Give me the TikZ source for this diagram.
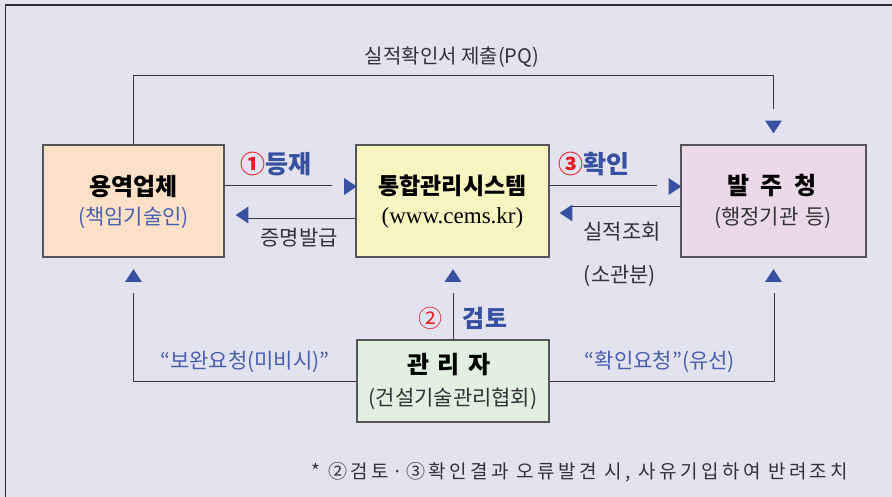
\documentclass[tikz,border=0pt]{standalone}
\usepackage{fontspec}
\setmainfont{Noto Sans CJK KR}
\newfontfamily\latinserif{Liberation Serif}
\definecolor{bgcol}{RGB}{227,227,240}
\definecolor{framecol}{RGB}{45,45,55}
\definecolor{peach}{RGB}{252,225,200}
\definecolor{lyellow}{RGB}{248,246,192}
\definecolor{lpink}{RGB}{235,216,232}
\definecolor{lgreen}{RGB}{226,240,225}
\definecolor{tblue}{RGB}{55,80,160}
\definecolor{sblue}{RGB}{72,95,175}
\definecolor{tred}{RGB}{232,30,40}
\definecolor{tgray}{RGB}{50,50,55}
\definecolor{linecol}{RGB}{55,55,60}
\tikzset{
  box/.style={draw=linecol!85, line width=1.1pt, inner sep=0pt, minimum height=112pt},
  conn/.style={draw=linecol, line width=0.8pt},
  txt/.style={inner sep=0pt, text=tgray},
  tri/.style={fill=tblue}
}
\newcommand\mytri[2]{\fill[tri, shift={(#1)}, rotate=#2] (-6.3,-8.4) -- (6.3,0) -- (-6.3,8.4) -- cycle;}
\begin{document}
\begin{tikzpicture}[x=1pt,y=-1pt]
\useasboundingbox (0,0) rectangle (892,497);
\fill[bgcol] (0,0) rectangle (892,497);
\draw[framecol, line width=1.5pt] (5.5,497) -- (5.5,5) -- (892,5);

% boxes
\node[box, fill=peach, minimum width=181pt] (yong) at (133.5,201) {};
\node[box, fill=lyellow, minimum width=193pt] (tong) at (452.5,201) {};
\node[box, fill=lpink, minimum width=185pt] (bal) at (773.5,201) {};
\node[box, fill=lgreen, minimum width=192pt, minimum height=82pt] (gwan) at (453,381) {};

% box texts
\node[txt, text=black, font=\fontsize{24}{26}\selectfont\bfseries] (yongT) at (133.5,187) {용역업체};
\node[txt, text=sblue, font=\fontsize{21}{24}\selectfont] (yongS) at (133.5,218) {(책임기술인)};
\node[txt, text=black, font=\fontsize{23}{26}\selectfont\bfseries] (tongT) at (452.5,186) {통합관리시스템};
\node[txt, text=black, font=\fontsize{23}{26}\latinserif] (tongS) at (452.5,218) {(www.cems.kr)};
\node[txt, text=black, font=\fontsize{24}{26}\selectfont\bfseries] (balT) at (772,186) {발\hspace{11pt}주\hspace{11pt}청};
\node[txt, font=\fontsize{21}{24}\selectfont] (balS) at (773,218) {(행정기관\hspace{7pt}등)};
\node[txt, text=black, font=\fontsize{24}{26}\selectfont\bfseries] (gwanT) at (449,365) {관\hspace{8pt}리\hspace{8pt}자};
\node[txt, font=\fontsize{21}{24}\selectfont] (gwanS) at (453,399) {(건설기술관리협회)};

% connector end points
\coordinate (pqCorner) at (773.5,75.7);
\coordinate (pqEnd) at (773.5,109);
\coordinate (regEnd) at (331.7,185);
\coordinate (certEnd) at (248,218);
\coordinate (confEnd) at (657,185);
\coordinate (qEnd) at (572,206);
\coordinate (blTop) at (133.5,293);
\coordinate (mTop) at (453,293);
\coordinate (brTop) at (774,293);

% connectors
\draw[conn] (yong.north) |- (pqCorner) -- (pqEnd);
\draw[conn] (regEnd -| yong.east) -- (regEnd);
\draw[conn] (certEnd -| tong.west) -- (certEnd);
\draw[conn] (confEnd -| tong.east) -- (confEnd);
\draw[conn] (qEnd -| bal.west) -- (qEnd);
\draw[conn] (gwan.west) -| (blTop);
\draw[conn] (gwan.north) -- (mTop);
\draw[conn] (gwan.east) -| (brTop);

% arrow heads
\mytri{773.5,127}{-90}
\mytri{350.5,186.5}{0}
\mytri{242,215}{180}
\mytri{675,186.5}{0}
\mytri{566,213}{180}
\mytri{133.5,275.5}{90}
\mytri{453,275.5}{90}
\mytri{773.5,275.5}{90}

% labels
\node[txt, font=\fontsize{20}{22}\selectfont] (pqL) at (452,57) {실적확인서 제출(PQ)};
\node[txt, font=\fontsize{25}{28}\selectfont\bfseries] (regL) at (276,164) {\textcolor{tred}{①}\textcolor{tblue}{등재}};
\node[txt, font=\fontsize{25}{28}\selectfont\bfseries] (confL) at (594,164) {\textcolor{tred}{③}\textcolor{tblue}{확인}};
\node[txt, font=\fontsize{21}{24}\selectfont] (certL) at (299,238) {증명발급};
\node[txt, font=\fontsize{21}{24}\selectfont] (qL) at (622,232) {실적조회};
\node[txt, font=\fontsize{21}{24}\selectfont] (qL2) at (620,276) {(소관분)};
\node[txt, text=tred, font=\fontsize{24}{26}\selectfont] (revN) at (430,318) {②};
\node[txt, text=tblue, font=\fontsize{24}{26}\selectfont\bfseries] (revL) at (485,318) {검토};
\node[txt, text=sblue, font=\fontsize{21}{24}\selectfont] (supL) at (245,362) {“보완요청(미비시)”};
\node[txt, text=sblue, font=\fontsize{21}{24}\selectfont] (askL) at (660,362) {“확인요청”(유선)};
\node[txt, font=\fontsize{19}{22}\selectfont\addfontfeature{LetterSpace=18}] (foot) at (580,472) {* ②검토·③확인결과 오류발견 시, 사유기입하여 반려조치};
\end{tikzpicture}
\end{document}
